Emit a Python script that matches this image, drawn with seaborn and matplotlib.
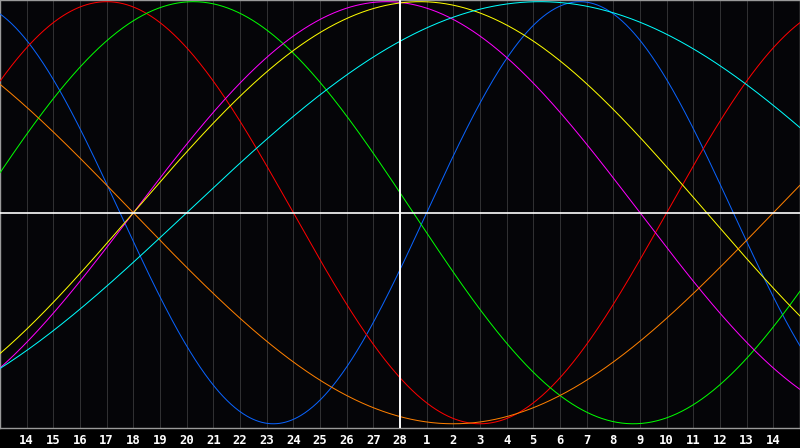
import numpy as np
import pandas as pd
import matplotlib
matplotlib.use("Agg")
import matplotlib.pyplot as plt
import seaborn as sns

# ---- data ----
cycle_names = ["Physical", "Emotional", "Intellectual", "Intuitive",
               "Aesthetic", "Awareness", "Spiritual"]
cycle_periods = [23, 28, 33, 38, 43, 48, 53]
cycle_colors = ["#0a64ff", "#ff0000", "#00ff00", "#ff00ff",
                "#ffff00", "#ff8000", "#00ffff"]
day_labels = [14, 15, 16, 17, 18, 19, 20, 21, 22, 23, 24, 25, 26, 27, 28,
              1, 2, 3, 4, 5, 6, 7, 8, 9, 10, 11, 12, 13, 14]
days_lived_at_today = 19618      # age in days on the marked day (28)
today_index = 15                 # position of the marked day on the axis

# ---- build long table ----
span = len(day_labels) + 1
pos = np.linspace(0, span, 801)
rows = []
for name, period in zip(cycle_names, cycle_periods):
    t = days_lived_at_today + (pos - today_index)
    vals = np.sin(2 * np.pi * t / period)
    rows.append(pd.DataFrame({"pos": pos, "value": vals, "cycle": name}))
df = pd.concat(rows, ignore_index=True)

sns.set_style("dark")
fig = plt.figure(figsize=(8, 4.48), dpi=100, facecolor="#000000")
ax = fig.add_axes([0, 20 / 448, 1, 428 / 448])
ax.set_facecolor("#050508")

px = 0.72
ticks = list(range(1, span))
for x in ticks:
    ax.axvline(x, color="#303032", lw=px, zorder=1)

sns.lineplot(data=df, x="pos", y="value", hue="cycle",
             palette=dict(zip(cycle_names, cycle_colors)),
             hue_order=cycle_names, linewidth=px, legend=False,
             ax=ax, zorder=3, sort=False, estimator=None)

ax.axhline(0, color="#ffffff", lw=1.2, zorder=5)
ax.axvline(today_index, color="#ffffff", lw=1.4, zorder=5)

ax.set_xlim(0, span)
ax.set_ylim(-1.02, 1.008)
ax.set_xticks(ticks)
ax.set_xticklabels([str(d) for d in day_labels])
ax.set_yticks([])
ax.set_xlabel("")
ax.set_ylabel("")
ax.grid(False)
ax.tick_params(axis="x", length=0, pad=4, colors="#ffffff", labelsize=8.8)
for lab in ax.get_xticklabels():
    lab.set_fontfamily("DejaVu Sans Mono")
    lab.set_fontweight("bold")
for s in ax.spines.values():
    s.set_visible(True)
    s.set_color("#9a9a9a")
    s.set_linewidth(1.0)

fig.savefig("out.png", dpi=100, facecolor=fig.get_facecolor())
